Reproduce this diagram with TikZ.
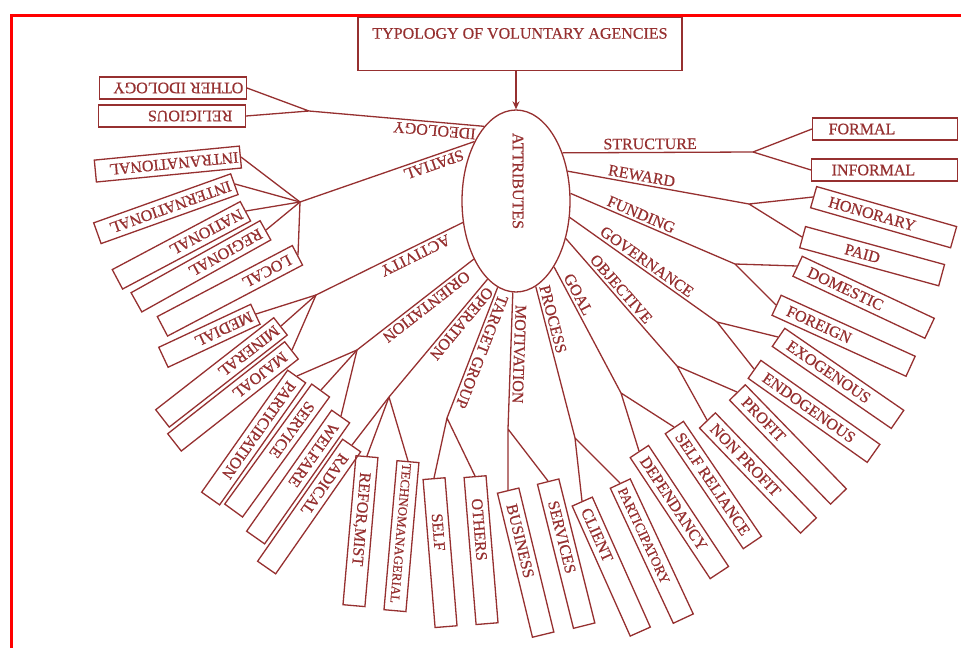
\documentclass[tikz,border=0pt]{standalone}
\usepackage{fontspec}
\setmainfont[FakeBold=0.5]{Liberation Serif}
\usetikzlibrary{calc, arrows.meta, shapes.geometric}
\definecolor{ink}{RGB}{150,48,48}

\tikzset{
  leafbox/.style={draw=ink, rectangle, minimum height=22pt, inner sep=0pt},
  leaftext/.style={text=ink, font=\fontsize{16}{18}\selectfont, inner ysep=0pt, text height=10.5pt, text depth=0pt},
  lbl/.style={text=ink, font=\fontsize{16}{18}\selectfont, sloped, allow upside down, above, inner sep=2.5pt},
}

% leaf box: [padding]{name}{near end}{far end}{text}
\newcommand{\leaf}[5][12pt]{%
  \path let \p1=($(#4)-(#3)$), \n1={atan2(\y1,\x1)}, \n2={veclen(\x1,\y1)} in
    (#3) node[leafbox, rotate=\n1, minimum width=\n2, anchor=west] (#2) {}
    (#3) node[leaftext, rotate=\n1, anchor=west, inner xsep=#1] (#2-t) {#5};
}

\begin{document}
\begin{tikzpicture}[x=1pt, y=-1pt, color=ink, line width=1.3pt]
  \path[use as bounding box, fill=white] (0,0) rectangle (961,648);

  % title and centre
  \node[draw, anchor=north, minimum width=324pt, minimum height=53pt, inner ysep=3pt,
        text height=18pt, text depth=29pt, font=\fontsize{16}{18}\selectfont] (title) at (520,17)
        {TYPOLOGY OF VOLUNTARY AGENCIES};
  \node[draw, ellipse, minimum width=108pt, minimum height=182pt, inner sep=0pt] (attr) at (516,201) {};
  \node[rotate=-90, font=\fontsize{16}{18}\selectfont] (attrtext) at (518,181) {ATTRIBUTES};
  \draw[-{Stealth[length=8pt,width=7pt]}] (attr.north |- title.south) -- (attr.north);

  % ideology
  \coordinate (jIde) at (309,111);
  \draw (attr.113) -- (jIde) node[lbl, pos=0.28] {IDEOLOGY};
  \leaf[3pt]{othid}{247,88}{100,88}{OTHER IDOLOGY}
  \leaf[13pt]{relig}{246,116}{99,116}{RELIGIOUS}
  \draw (jIde) -- (othid.west) (jIde) -- (relig.west);

  % spatial
  \coordinate (jSpa) at (300,202);
  \draw (attr.125) -- (jSpa) node[lbl, pos=0.25] {SPATIAL};
  \leaf[2pt]{intra}{241,157}{96,171}{INTRANATIONAL}
  \leaf[4pt]{inter}{235,184}{98,233}{INTERNATIONAL}
  \leaf[4pt]{natl}{246,211}{118,279}{NATIONAL}
  \leaf[5pt]{regl}{266,230}{137,302}{REGIONAL}
  \leaf[8pt]{locl}{298,255}{163,326}{LOCAL}
  \foreach \n in {intra,inter,natl,regl,locl}
    \draw (jSpa) -- (\n.west);

  % activity
  \coordinate (jAct) at (316,295);
  \draw (attr.202) -- (jAct) node[lbl, pos=0.35] {ACTIVITY};
  \leaf[4pt]{medl}{256,314}{164,357}{MEDIAL}
  \leaf[4pt]{minr}{281,326}{163,418}{MINERAL}
  \leaf[8pt]{majo}{292,350}{175,442}{MAJOAL}
  \foreach \n in {medl,minr,majo}
    \draw (jAct) -- (\n.west);

  % orientation
  \coordinate (jOri) at (357,350);
  \draw (attr.234) -- (jOri) node[lbl, pos=0.45] {ORIENTATION};
  \leaf[8pt]{partn}{297,376}{211,498}{PARTICIPATION}
  \leaf[16pt]{servc}{321,390}{234,510}{SERVICE}
  \leaf[10pt]{welf}{341,416}{256,537}{WELFARE}
  \foreach \n in {partn,servc,welf}
    \draw (jOri) -- (\n.west);

  % operation
  \coordinate (jOpe) at (389,397);
  \draw (attr.250) -- (jOpe) node[lbl, pos=0.33] {OPERATION};
  \leaf[12pt]{radic}{352,445}{267,567}{RADICAL}
  \leaf[16pt]{refor}{367,456}{354,605}{REFOR,MIST}
  \leaf[2pt]{techn}{408,461}{395,610}{\fontsize{13}{15}\selectfont TECHNOMANAGERIAL}
  \foreach \n in {radic,refor,techn}
    \draw (jOpe) -- (\n.west);

  % target group
  \coordinate (jTar) at (447,418);
  \draw (attr.258) -- (jTar) node[lbl, pos=0.47] {TARGET GROUP};
  \leaf[35pt]{self}{434,478}{446,626}{SELF}
  \leaf[22pt]{othr}{475,476}{487,623}{OTHERS}
  \draw (jTar) -- (self.west) (jTar) -- (othr.west);

  % motivation
  \coordinate (jMot) at (508,429);
  \draw (attr.268) -- (jMot) node[lbl, pos=0.45] {MOTIVATION};
  \leaf[14pt]{busn}{508,490}{543,634}{BUSINESS}
  \leaf[20pt]{servs}{548,481}{584,625}{SERVICES}
  \draw (jMot) -- (busn.west) (jMot) -- (servs.west);

  % process
  \coordinate (jPro) at (575,438);
  \draw (attr.283) -- (jPro) node[lbl, pos=0.23] {PROCESS};
  \leaf[8pt]{clnt}{582,501}{640,631}{CLIENT}
  \leaf[5pt]{ptory}{620,483}{683,618}{\fontsize{14}{16}\selectfont PARTICIPATORY}
  \draw (jPro) -- (clnt.west) (jPro) -- (ptory.west);

  % goal
  \coordinate (jGoa) at (621,393);
  \draw (attr.300) -- (jGoa) node[lbl, pos=0.25] {GOAL};
  \leaf[8pt]{depn}{639,451}{719,572}{DEPENDANCY}
  \leaf[8pt]{selfr}{674,427}{752,542}{SELF RELIANCE}
  \draw (jGoa) -- (depn.west) (jGoa) -- (selfr.west);

  % objective
  \coordinate (jObj) at (677,366);
  \draw (attr.323) -- (jObj) node[lbl, pos=0.44] {OBJECTIVE};
  \leaf[8pt]{nonp}{707,420}{808,525}{NON PROFIT}
  \leaf[10pt]{prof}{737,392}{838,496}{PROFIT}
  \draw (jObj) -- (nonp.west) (jObj) -- (prof.west);

  % governance
  \coordinate (jGov) at (717,322);
  \draw (attr.343) -- (jGov) node[lbl, pos=0.49] {GOVERNANCE};
  \leaf{endo}{754,369}{873,453}{ENDOGENOUS}
  \leaf{exo}{778,337}{897,419}{EXOGENOUS}
  \draw (jGov) -- (endo.west) (jGov) -- (exo.west);

  % funding
  \coordinate (jFun) at (735,264);
  \draw (attr.8) -- (jFun) node[lbl, pos=0.41] {FUNDING};
  \leaf{forn}{776,305}{910,366}{FOREIGN}
  \leaf{dome}{797,266}{929,328}{DOMESTIC}
  \draw (jFun) -- (forn.west) (jFun) -- (dome.west);

  % reward
  \coordinate (jRew) at (749,204);
  \draw (attr.30) -- (jRew) node[lbl, pos=0.40] {REWARD};
  \leaf[44pt]{paid}{802,237}{941,275}{PAID}
  \leaf[16pt]{hono}{813,197}{953,237}{HONORARY}
  \draw (jRew) -- (paid.west) (jRew) -- (hono.west);

  % structure
  \coordinate (jStr) at (753,152);
  \draw (attr.46) -- (jStr) node[lbl, pos=0.46] {STRUCTURE};
  \leaf[16pt]{forml}{812,129}{957,129}{FORMAL}
  \leaf[20pt]{infml}{811,170}{957,170}{INFORMAL}
  \draw (jStr) -- (forml.west) (jStr) -- (infml.west);

  % frame
  \draw[red, line width=3pt] (11,648) -- (11,15) -- (961,15);
\end{tikzpicture}
\end{document}
